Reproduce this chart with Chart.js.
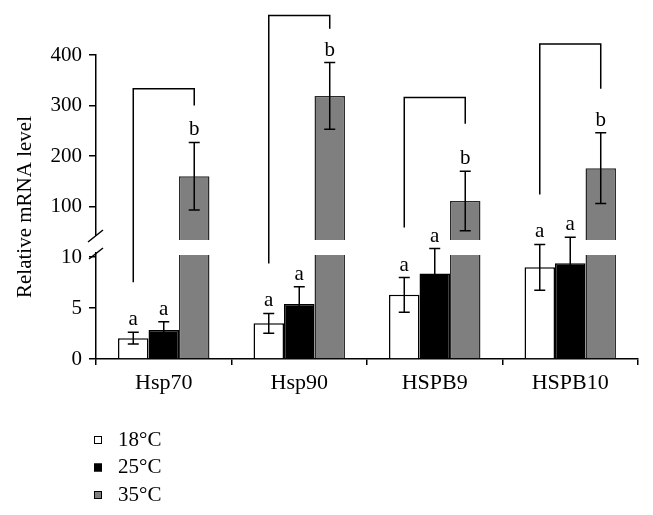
<!DOCTYPE html>
<html>
<head>
<meta charset="utf-8">
<script src="https://cdn.jsdelivr.net/npm/chart.js@4.4.1/dist/chart.umd.min.js"></script>
<style>
  html, body { margin: 0; padding: 0; background: #fff; }
  #wrap { width: 653px; height: 515px; }
</style>
</head>
<body>
<div id="wrap"><canvas id="chart"></canvas></div>
<script>
const genes = ['Hsp70', 'Hsp90', 'HSPB9', 'HSPB10'];
const temps = ['18°C', '25°C', '35°C'];

const mean18 = [2.05, 3.5, 6.3, 9.0];
const err18 = [0.57, 0.97, 1.7, 2.25];
const mean25 = [2.85, 5.4, 8.4, 9.4];
const err25 = [0.8, 1.7, 2.45, 2.55];
const mean35 = [160, 319, 111, 176];
const err35 = [67, 66, 59, 70];

const letters18 = ['a', 'a', 'a', 'a'];
const letters25 = ['a', 'a', 'a', 'a'];
const letters35 = ['b', 'b', 'b', 'b'];

// bracket heights in upper-axis units: top bar and the end over the 35°C bar
const bracketTop = [333, 478, 316, 422];
const bracketEnd = [300, 452, 264, 333];

// broken y axis: lower part 0..11, upper part 20..400
const lowerRange = [0, 11];
const upperRange = [20, 400];

const FONT = "'Liberation Serif', 'Times New Roman', serif";
Chart.defaults.font.family = FONT;
Chart.defaults.color = '#000';

const fixWidth = scale => { scale.width = 96; };

const annotate = {
  id: 'annotate',
  afterDatasetsDraw(chart) {
    const ctx = chart.ctx;
    const yLow = chart.scales.y;
    const yTop = chart.scales.yTop;
    const axisX = yLow.right;
    const split = yLow.top;

    ctx.save();

    // axis break
    ctx.fillStyle = '#fff';
    ctx.fillRect(axisX - 4, split - 11, 8, 16);
    ctx.strokeStyle = '#000';
    ctx.lineWidth = 1.5;
    ctx.beginPath();
    ctx.moveTo(axisX - 8, split - 5);
    ctx.lineTo(axisX + 7, split - 17);
    ctx.moveTo(axisX - 7, split + 12);
    ctx.lineTo(axisX + 7, split + 1);
    ctx.stroke();

    // error bars and letters
    const series = [
      { ds: 0, mean: mean18, err: err18, letters: letters18 },
      { ds: 1, mean: mean25, err: err25, letters: letters25 },
      { ds: 2, mean: mean35, err: err35, letters: letters35 }
    ];
    ctx.font = '21px ' + FONT;
    ctx.textAlign = 'center';
    ctx.textBaseline = 'alphabetic';
    ctx.fillStyle = '#000';
    series.forEach(s => {
      const meta = chart.getDatasetMeta(s.ds);
      const scale = chart.scales[meta.yAxisID];
      meta.data.forEach((bar, i) => {
        const hi = scale.getPixelForValue(s.mean[i] + s.err[i]);
        const lo = scale.getPixelForValue(s.mean[i] - s.err[i]);
        ctx.beginPath();
        ctx.moveTo(bar.x, hi);
        ctx.lineTo(bar.x, lo);
        ctx.moveTo(bar.x - 5.5, hi);
        ctx.lineTo(bar.x + 5.5, hi);
        ctx.moveTo(bar.x - 5.5, lo);
        ctx.lineTo(bar.x + 5.5, lo);
        ctx.stroke();
        ctx.fillText(s.letters[i], bar.x, hi - 7);
      });
    });

    // brackets
    const m18 = chart.getDatasetMeta(0);
    const m35 = chart.getDatasetMeta(2);
    genes.forEach((g, i) => {
      const lx = m18.data[i].x;
      const rx = m35.data[i].x;
      const top = yTop.getPixelForValue(bracketTop[i]);
      const rEnd = yTop.getPixelForValue(bracketEnd[i]);
      const lEnd = yLow.getPixelForValue(mean18[i] + err18[i]) - 50;
      ctx.beginPath();
      ctx.moveTo(lx, lEnd);
      ctx.lineTo(lx, top);
      ctx.lineTo(rx, top);
      ctx.lineTo(rx, rEnd);
      ctx.stroke();
    });

    ctx.restore();
  },
  afterDraw(chart) {
    const ctx = chart.ctx;
    const area = chart.chartArea;
    ctx.save();

    // y axis title
    ctx.font = '21px ' + FONT;
    ctx.fillStyle = '#000';
    ctx.textAlign = 'center';
    ctx.textBaseline = 'middle';
    ctx.translate(25, (area.top + area.bottom) / 2);
    ctx.rotate(-Math.PI / 2);
    ctx.fillText('Relative mRNA level', 0, 0);
    ctx.restore();

    // legend, one entry per row
    ctx.save();
    ctx.font = '21px ' + FONT;
    ctx.textAlign = 'left';
    ctx.textBaseline = 'middle';
    chart.data.datasets.slice(0, 3).forEach((ds, i) => {
      const y = 440 + i * 27.5;
      ctx.fillStyle = ds.backgroundColor;
      ctx.fillRect(94, y - 4, 8, 8);
      ctx.strokeStyle = '#000';
      ctx.lineWidth = 1;
      ctx.strokeRect(94.5, y - 3.5, 7, 7);
      ctx.fillStyle = '#000';
      ctx.fillText(ds.label, 118, y);
    });
    ctx.restore();
  }
};

new Chart(document.getElementById('chart'), {
  type: 'bar',
  data: {
    labels: genes,
    datasets: [
      {
        label: temps[0], data: mean18, yAxisID: 'y', stack: 's18',
        backgroundColor: '#ffffff', borderColor: '#000', borderWidth: 1.5
      },
      {
        label: temps[1], data: mean25, yAxisID: 'y', stack: 's25',
        backgroundColor: '#000000', borderColor: '#000', borderWidth: 1.5
      },
      {
        label: temps[2], data: mean35, yAxisID: 'yTop', stack: 's35',
        backgroundColor: '#7f7f7f', borderColor: '#2a2a2a', borderWidth: 1.5,
        clip: { left: 0, right: 0, top: false, bottom: -7 }
      },
      {
        label: temps[2], data: mean35, yAxisID: 'y', stack: 's35',
        backgroundColor: '#7f7f7f', borderColor: '#2a2a2a', borderWidth: 1.5,
        clip: { left: 0, right: 0, top: -8, bottom: false }
      }
    ]
  },
  options: {
    responsive: true,
    maintainAspectRatio: false,
    animation: false,
    layout: { padding: { top: 55, right: 15, bottom: 116, left: 0 } },
    datasets: { bar: { barPercentage: 1, categoryPercentage: 0.675 } },
    plugins: { legend: { display: false }, tooltip: { enabled: false } },
    scales: {
      x: {
        afterFit(scale) { scale.height = 40; },
        grid: { drawOnChartArea: false, tickLength: 6, color: '#000', lineWidth: 1.5 },
        border: { color: '#000', width: 1.5 },
        ticks: { font: { size: 22 }, color: '#000', padding: 5 }
      },
      y: {
        position: 'left', stack: 'ybreak', stackWeight: 112,
        min: lowerRange[0], max: lowerRange[1],
        afterFit: fixWidth,
        grid: { drawOnChartArea: false, tickLength: 7, color: '#000', lineWidth: 1.5 },
        border: { color: '#000', width: 1.5 },
        ticks: { stepSize: 5, includeBounds: false, font: { size: 21 }, color: '#000', padding: 7 }
      },
      yTop: {
        position: 'left', stack: 'ybreak', stackWeight: 192,
        min: upperRange[0], max: upperRange[1],
        afterFit: fixWidth,
        grid: { drawOnChartArea: false, tickLength: 7, color: '#000', lineWidth: 1.5 },
        border: { color: '#000', width: 1.5 },
        ticks: { stepSize: 100, includeBounds: false, font: { size: 21 }, color: '#000', padding: 7 }
      }
    }
  },
  plugins: [annotate]
});
</script>
</body>
</html>
